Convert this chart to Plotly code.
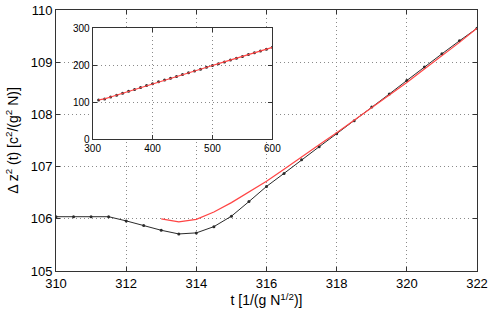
import plotly.graph_objects as go

# Main plot data
t_black = [309.5, 310, 310.5, 311, 311.5, 312, 312.5, 313, 313.5, 314, 314.5, 315, 315.5,
           316, 316.5, 317, 317.5, 318, 318.5, 319, 319.5, 320, 320.5, 321, 321.5, 322]
z_black = [106.04, 106.04, 106.04, 106.04, 106.04, 105.96, 105.87, 105.78, 105.71, 105.73, 105.85,
           106.05, 106.33, 106.62, 106.87, 107.13, 107.38, 107.63, 107.88, 108.14, 108.39,
           108.65, 108.91, 109.16, 109.41, 109.65]

t_red = [313, 313.5, 314, 314.5, 315, 315.5, 316, 316.5, 317, 317.5, 318, 318.5,
         319, 319.5, 320, 320.5, 321, 321.5, 322]
z_red = [106.00, 105.94, 105.99, 106.13, 106.31, 106.51, 106.72, 106.95, 107.19, 107.42,
         107.65, 107.89, 108.12, 108.36, 108.61, 108.87, 109.12, 109.38, 109.65]

# Inset data
t_inset = [310, 320, 330, 340, 350, 360, 370, 380, 390, 400, 410, 420, 430, 440, 450,
           460, 470, 480, 490, 500, 510, 520, 530, 540, 550, 560, 570, 580, 590, 600]
z_inset = [106.0, 108.7, 113.8, 118.9, 124.0, 129.1, 134.2, 139.3, 144.6, 149.9, 154.7,
           159.6, 164.5, 169.4, 174.3, 179.2, 184.1, 189.0, 193.9, 198.8, 203.7, 208.6,
           213.5, 218.4, 223.3, 228.2, 233.1, 238.0, 242.9, 247.8]

x_ticks = [310, 312, 314, 316, 318, 320, 322]
y_ticks = [105, 106, 107, 108, 109, 110]
xi_ticks = [300, 400, 500, 600]
yi_ticks = [0, 100, 200, 300]

BLACK = "#2b2b2b"
RED = "#ff4545"
FONT = "Liberation Sans, Arial, sans-serif"

fig = go.Figure()
fig.add_trace(go.Scatter(x=t_black, y=z_black, mode="lines+markers",
                         line=dict(color=BLACK, width=1), marker=dict(size=3, color=BLACK),
                         showlegend=False))
fig.add_trace(go.Scatter(x=t_red, y=z_red, mode="lines",
                         line=dict(color=RED, width=1.2), showlegend=False))
fig.add_trace(go.Scatter(x=t_inset, y=z_inset, mode="markers", xaxis="x2", yaxis="y2",
                         marker=dict(size=3, color=BLACK), showlegend=False))
fig.add_trace(go.Scatter(x=t_inset, y=z_inset, mode="lines", xaxis="x2", yaxis="y2",
                         line=dict(color=RED, width=1.2), showlegend=False))

axis_common = dict(showline=True, linecolor="#333", linewidth=1, mirror="ticks",
                   ticks="inside", ticklen=4, tickcolor="#333",
                   showgrid=True, gridcolor="#8a8a8a", griddash="1px,3px", gridwidth=1,
                   zeroline=False, automargin=False)

fig.update_layout(
    width=491, height=313,
    margin=dict(l=56, r=14, t=10, b=42),
    paper_bgcolor="white", plot_bgcolor="white",
    font=dict(family=FONT, color="black"),
    xaxis=dict(range=[310, 322], tickvals=x_ticks, ticktext=[str(v) for v in x_ticks],
               tickfont=dict(size=13), title=dict(text="t [1/(g N<sup>1/2</sup>)]",
                                                   font=dict(size=14), standoff=2),
               **axis_common),
    yaxis=dict(range=[105, 110], tickvals=y_ticks, ticktext=[str(v) for v in y_ticks],
               tickfont=dict(size=13),
               title=dict(text="Δ z<sup>2</sup> (t) [c<sup>2</sup>/(g<sup>2</sup> N)]",
                          font=dict(size=14), standoff=8),
               **axis_common),
    xaxis2=dict(domain=[0.087, 0.514], anchor="y2", range=[300, 600], tickvals=xi_ticks,
                tickfont=dict(size=10), **axis_common),
    yaxis2=dict(domain=[0.505, 0.931], anchor="x2", range=[0, 300], tickvals=yi_ticks,
                tickfont=dict(size=10), **axis_common),
)

fig.write_html("out.html", config={"displayModeBar": False, "responsive": False},
               post_script="document.body.style.margin='0';")
